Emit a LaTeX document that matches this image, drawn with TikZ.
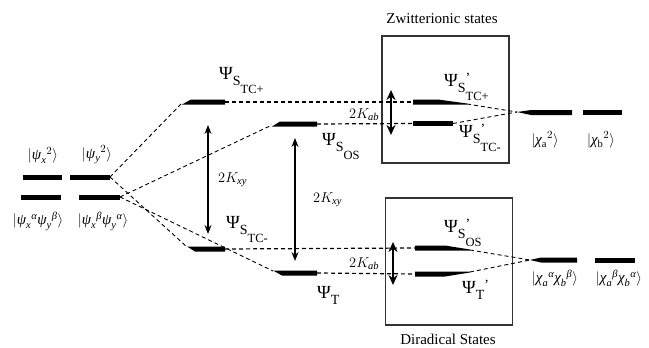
\documentclass[tikz,border=0pt]{standalone}
\usepackage{amsmath}
\usepackage{fontspec}
\setmainfont{Liberation Serif}
\usetikzlibrary{arrows.meta}
\newcommand{\psg}{\text{\itshape ψ}}
\newcommand{\chg}{\text{\itshape χ}}
\newcommand{\alg}{\text{\itshape α}}
\newcommand{\btg}{\text{\itshape β}}
\newcommand{\levbar}[3]{\fill (#1,#3-2.5) rectangle (#2,#3+2.5);}
% #1 first subscript, #2 prime (or empty), #3 second subscript
\newcommand{\plab}[3]{{\fontsize{18.5}{18.5}\selectfont Ψ}%
  \raisebox{-6pt}{\fontsize{14}{14}\selectfont #1}%
  \rlap{\raisebox{4pt}{\fontsize{14}{14}\selectfont #2}}%
  \raisebox{-14pt}{\fontsize{12.5}{12.5}\selectfont #3}}
\begin{document}
\begin{tikzpicture}[x=1pt,y=-1pt,
  dsh/.style={dash pattern=on 4pt off 3pt, line width=0.9pt},
  dshh/.style={dash pattern=on 4pt off 3pt, line width=1.2pt},
  dbl/.style={{Stealth[length=9pt,width=7pt]}-{Stealth[length=9pt,width=7pt]}, line width=1.4pt},
  dblb/.style={{Stealth[length=10pt,width=9pt]}-{Stealth[length=10pt,width=9pt]}, line width=2.4pt},
  psil/.style={inner sep=0pt, anchor=base west},
  ket/.style={font=\fontsize{15}{18}\selectfont, inner sep=0pt},
  kl/.style={font=\fontsize{15}{18}\selectfont, inner sep=0pt, anchor=base west},
  ttl/.style={font=\fontsize{15}{18}\selectfont, inner sep=0pt},
  boxst/.style={draw=black!80, line width=1.1pt, inner sep=0pt, minimum width=127pt, minimum height=127pt}
]
\useasboundingbox (0,0) rectangle (649,348);

% ---- left levels
\levbar{23}{62}{177}
\levbar{70}{110}{177}
\levbar{21}{61}{197}
\levbar{79}{120}{197}
\coordinate (A2R) at (110,177);
\coordinate (B2R) at (120,197);
\node[ket] (kx2) at (43,155) {$|\psg_{\mathit{x}}{}^{2}\rangle$};
\node[ket] (ky2) at (97,155) {$|\psg_{\mathit{y}}{}^{2}\rangle$};
\node[ket] (kab) at (38,221) {$|\psg_{\mathit{x}}{}^{\alg}\psg_{\mathit{y}}{}^{\btg}\rangle$};
\node[ket] (kba) at (103,221) {$|\psg_{\mathit{x}}{}^{\btg}\psg_{\mathit{y}}{}^{\alg}\rangle$};

% ---- central levels
\fill (182,104.5) -- (191,99.5) -- (225,99.5) -- (225,104.5) -- cycle;
\coordinate (tcpL) at (182,103); \coordinate (tcpR) at (225,102);
\fill (272,126.5) -- (280,121.5) -- (317,121.5) -- (317,126.5) -- cycle;
\coordinate (osL) at (272,125); \coordinate (osR) at (317,124);
\fill (187,246.5) -- (225,246.5) -- (225,251.5) -- (195,251.5) -- cycle;
\coordinate (tcmL) at (187,247); \coordinate (tcmR) at (225,249);
\fill (273,270.5) -- (317,270.5) -- (317,275.5) -- (282,275.5) -- cycle;
\coordinate (tL) at (273,271); \coordinate (tR) at (317,273);

\draw[dsh] (A2R) -- (tcpL);
\draw[dsh] (B2R) -- (osL);
\draw[dsh] (A2R) -- (tcmL);
\draw[dsh] (B2R) -- (tL);

% ---- boxes
\node[boxst] (zbox) at (445.5,99.5) {};
\node[boxst] (dbox) at (449,261.5) {};
\node[ttl] (ztitle) at (442,19) {Zwitterionic states};
\node[ttl] (dtitle) at (448,339) {Diradical States};

% ---- box levels
\coordinate (z1L) at (413,102); \coordinate (z2L) at (413,123.5);
\coordinate (d1L) at (415,248); \coordinate (d2L) at (415,274);
\fill (413,99.5) -- (438,99.5) -- (467,103.5) -- (467,104.5) -- (413,104.5) -- cycle;
\coordinate (z1R) at (467,104);
\fill (413,121) rectangle (453,126);
\coordinate (z2R) at (453,123.5);
\fill (415,245.5) -- (445,245.5) -- (470,249.5) -- (470,250.5) -- (415,250.5) -- cycle;
\coordinate (d1R) at (470,250);
\fill (415,271.5) -- (470,271.5) -- (470,272.5) -- (445,276.5) -- (415,276.5) -- cycle;
\coordinate (d2R) at (470,272);

\draw[dshh] (tcpR) -- (z1L);
\draw[dshh] (osR) -- (z2L);
\draw[dshh] (tcmR) -- (d1L);
\draw[dshh] (tR) -- (d2L);

% ---- right levels
\coordinate (C1) at (517,112);
\fill (C1) -- (531,110) -- (572,110) -- (572,115) -- (531,115) -- cycle;
\levbar{583}{622}{112.5}
\coordinate (C2) at (530,260);
\fill (C2) -- (541,257.5) -- (577,257.5) -- (577,262.5) -- (541,262.5) -- cycle;
\levbar{595}{635}{260}
\draw[dsh] (z1R) -- (C1);
\draw[dsh] (z2R) -- (C1);
\draw[dsh] (d1R) -- (C2);
\draw[dsh] (d2R) -- (C2);
\node[ket] (ka2) at (545,140) {$|\chg_{\mathrm{a}}{}^{2}\rangle$};
\node[ket] (kb2) at (601,140) {$|\chg_{\mathrm{b}}{}^{2}\rangle$};
\node[ket] (kcab) at (555,278) {$|\chg_{\mathit{a}}{}^{\alg}\chg_{\mathit{b}}{}^{\btg}\rangle$};
\node[ket] (kcba) at (619,278) {$|\chg_{\mathit{a}}{}^{\btg}\chg_{\mathit{b}}{}^{\alg}\rangle$};

% ---- arrows
\coordinate (ka1) at (208,125); \coordinate (ka2c) at (208,234);
\coordinate (kb1) at (295,138); \coordinate (kb2c) at (295,261);
\coordinate (kc1) at (391,90); \coordinate (kc2) at (391,135);
\coordinate (kd1) at (393,242); \coordinate (kd2) at (393,285);
\draw[dbl] (ka1) -- (ka2c);
\draw[dbl] (kb1) -- (kb2c);
\draw[dblb] (kc1) -- (kc2);
\draw[dblb] (kd1) -- (kd2);

% ---- labels
\node[psil] (lTCp) at (219,79) {\plab{S}{}{TC+}};
\node[psil] (lOS) at (322,145) {\plab{S}{}{OS}};
\node[psil] (lTCm) at (226,228) {\plab{S}{}{TC-}};
\node[psil] (lT) at (317,298) {\plab{T}{}{}};
\node[psil] (lzTCp) at (444,86) {\plab{S}{'}{TC+}};
\node[psil] (lzTCm) at (459,137) {\plab{S}{'}{TC-}};
\node[psil] (ldOS) at (444,232) {\plab{S}{'}{OS}};
\node[psil] (ldT) at (462,293) {\plab{T}{'}{}};
\node[kl] (kab1) at (349,118) {$2K_{\mathit{ab}}$};
\node[kl] (kab2) at (349,267) {$2K_{\mathit{ab}}$};
\node[kl] (kxy1) at (218,182) {$2K_{\mathit{xy}}$};
\node[kl] (kxy2) at (313,202) {$2K_{\mathit{xy}}$};
\end{tikzpicture}
\end{document}
